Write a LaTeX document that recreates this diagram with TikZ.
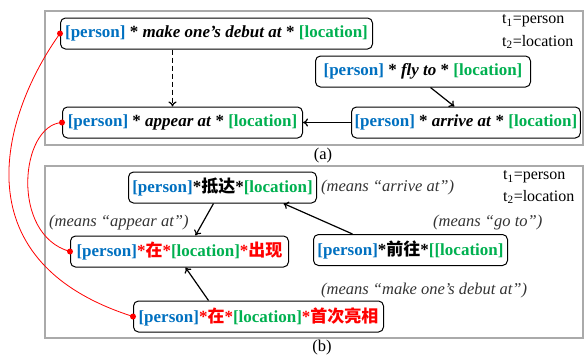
\documentclass[tikz,border=0pt]{standalone}
\usepackage{fontspec}
\setmainfont{Liberation Serif}
\newfontfamily\cjk{Noto Sans CJK SC}
\usetikzlibrary{arrows.meta}
\definecolor{pblue}{RGB}{0,112,192}
\definecolor{lgreen}{RGB}{0,176,80}
\definecolor{framegray}{RGB}{170,170,170}
\newcommand{\per}{\textcolor{pblue}{[person]}}
\newcommand{\loc}{\textcolor{lgreen}{[location]}}
\newcommand{\zh}[1]{{\cjk\bfseries #1}}
\begin{document}
\begin{tikzpicture}[x=1pt,y=-1pt,
  base/.style={font=\fontsize{16.5}{20}\selectfont},
  pat/.style={draw, rounded corners=5pt, line width=1pt, minimum height=31pt,
    inner xsep=3pt, anchor=west, font=\fontsize{17}{20}\selectfont\bfseries},
  frame/.style={draw=framegray, line width=1.3pt},
  arr/.style={-{To[length=5pt,width=8pt]}, line width=1.2pt},
  note/.style={font=\fontsize{16.5}{20}\selectfont\itshape, text=black!80, anchor=west, inner sep=0pt},
  tlab/.style={font=\fontsize{16}{20}\selectfont, anchor=west, inner sep=0pt},
  redline/.style={red, line width=0.8pt}]
\useasboundingbox (0,0) rectangle (584,356);
% frames
\draw[frame] (45,11) rectangle (583,145);
\draw[frame] (45,166) rectangle (583,338);
\node[base] (la) at (323,156) {(a)};
\node[base] (lb) at (322,348) {(b)};
% panel a
\node[pat, minimum width=312pt] (a1) at (60,33.5) {\per{} * \textit{make one’s debut at} * \loc};
\node[pat, minimum width=240pt] (a2) at (62,122.5) {\per{} * \textit{appear at} * \loc};
\node[pat, minimum width=215pt] (a3) at (315,71.5) {\per{} * \textit{fly to} * \loc};
\node[pat, minimum width=225pt] (a4) at (351,122.5) {\per{} * \textit{arrive at} * \loc};
\node[tlab] (ta1) at (502,21) {t\textsubscript{1}=person};
\node[tlab] (ta2) at (502,42) {t\textsubscript{2}=location};
\draw[arr, dash pattern=on 5pt off 3pt] ([xshift=-44pt]a1.south) -- ([xshift=-10pt]a2.north);
\draw[arr] ([xshift=7.5pt]a3.south) -- ([xshift=-11.5pt]a4.north);
\draw[arr] (a4.west) -- (a2.east);
% panel b
\node[pat, minimum width=188pt] (b1) at (128,187.5) {\per*\zh{抵达}*\loc};
\node[pat, minimum width=194pt] (b2) at (313,250) {\per*\zh{前往}*\textcolor{lgreen}{[[location]}};
\node[pat, minimum width=218pt] (b3) at (70,251.5) {\per\textcolor{red}{*\zh{在}*}\loc\textcolor{red}{*\zh{出现}}};
\node[pat, minimum width=250pt] (b4) at (133,316.5) {\per\textcolor{red}{*\zh{在}*}\loc\textcolor{red}{*\zh{首次亮相}}};
\node[note] (n1) at (321,188) {(means “arrive at”)};
\node[note] (n2) at (433,223) {(means “go to”)};
\node[note] (n3) at (49,223) {(means “appear at”)};
\node[note] (n4) at (321,291) {(means “make one’s debut at”)};
\node[tlab] (tb1) at (503,177) {t\textsubscript{1}=person};
\node[tlab] (tb2) at (503,197) {t\textsubscript{2}=location};
\draw[arr] ([xshift=-9pt]b1.south) -- ([xshift=16pt]b3.north);
\draw[arr] ([xshift=-58pt]b2.north) -- ([xshift=61pt]b1.south);
\draw[arr] ([xshift=-50pt]b4.north) -- ([xshift=6pt]b3.south);
% red links
\draw[redline] (a1.west) .. controls (5,110) and (-45,260) .. (b4.west);
\draw[redline] (a2.west) .. controls (20,125) and (10,235) .. (b3.west);
\fill[red] (a1.west) circle (3pt);
\fill[red] (a2.west) circle (3pt);
\fill[red] (b3.west) circle (3pt);
\fill[red] (b4.west) circle (3pt);
\end{tikzpicture}
\end{document}
